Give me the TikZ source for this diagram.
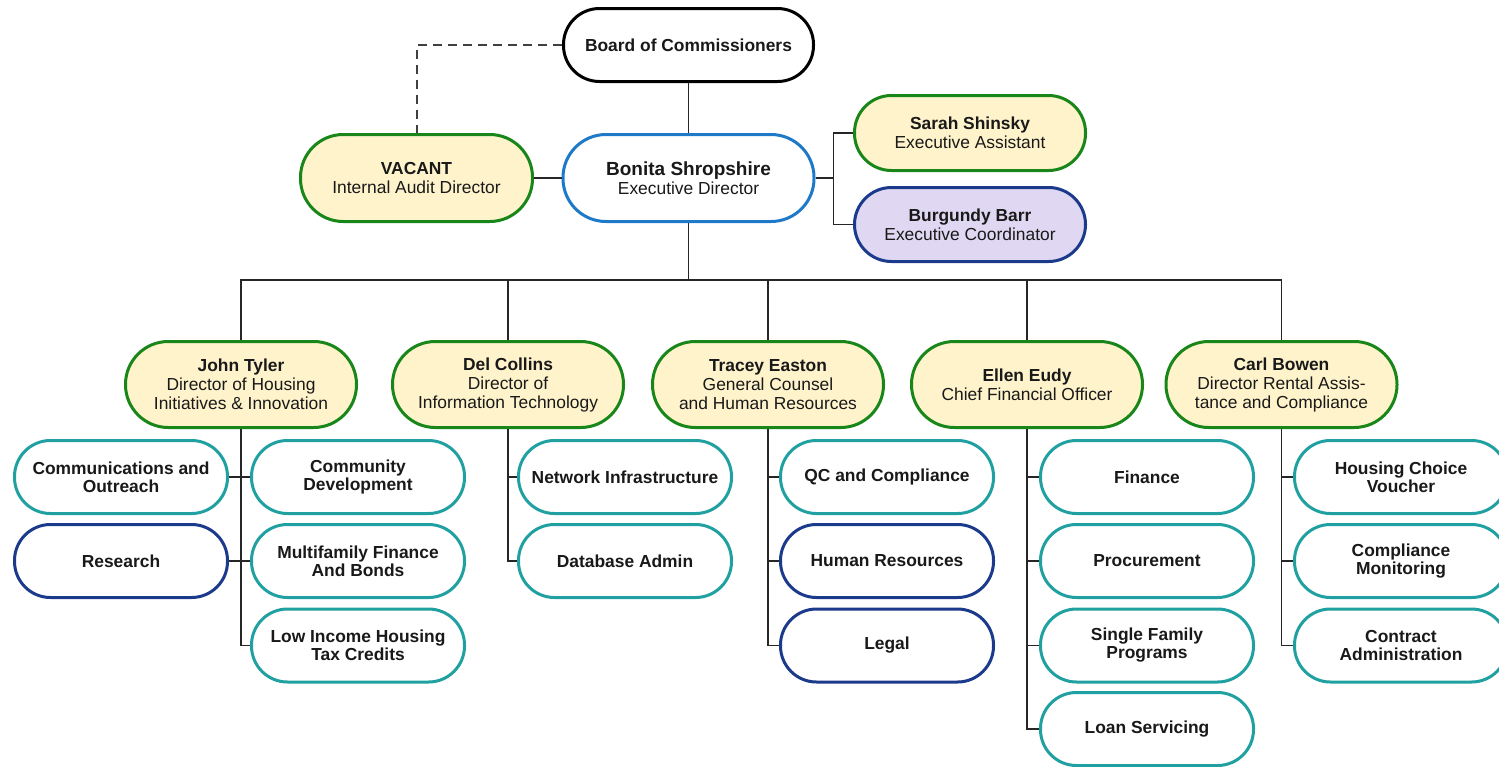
\documentclass[tikz,border=0pt]{standalone}
\usepackage{fontspec}
\setmainfont{Liberation Sans}
\definecolor{hgreen}{RGB}{24,134,24}
\definecolor{hfill}{RGB}{255,243,204}
\definecolor{edblue}{RGB}{30,122,200}
\definecolor{unavy}{RGB}{28,58,140}
\definecolor{lav}{RGB}{224,216,242}
\definecolor{uteal}{RGB}{32,160,160}
\begin{document}
\begin{tikzpicture}[x=0.5pt,y=-0.5pt,
  every node/.style={align=center, inner sep=1pt, line width=1.5pt, text=black!90,
    font=\fontsize{8.7}{9.5}\selectfont},
  top/.style={draw=black, fill=white, minimum width=125pt, minimum height=36.5pt, rounded corners=18pt},
  lead/.style={draw=hgreen, fill=hfill, minimum width=115.5pt, minimum height=43pt, rounded corners=21.4pt},
  unit/.style={draw=uteal, fill=white, minimum width=106.5pt, minimum height=36.5pt, rounded corners=18pt,
    font=\fontsize{8.7}{9}\selectfont\bfseries},
  navyunit/.style={unit, draw=unavy},
  link/.style={draw=black!85, line width=0.85pt}]
  \clip (0,0) rectangle (1499,766);
  % top of the chart
  \node[top] (bc) at (688.5,45) {\textbf{Board of Commissioners}};
  \node[draw=edblue, fill=white, minimum width=125.5pt, minimum height=43.5pt, rounded corners=21.5pt] (ed) at (688.5,178)
    {\fontsize{9.5}{10.5}\selectfont\textbf{Bonita Shropshire}\\Executive Director};
  \node[lead, minimum width=116pt, minimum height=43.5pt] (ia) at (416.5,178) {\textbf{VACANT}\\Internal Audit Director};
  \node[lead, minimum height=37.5pt, rounded corners=18.5pt] (sa) at (970,133) {\textbf{Sarah Shinsky}\\Executive Assistant};
  \node[lead, draw=unavy, fill=lav, minimum height=37pt, rounded corners=18.5pt] (bb) at (970,224.5)
    {\textbf{Burgundy Barr}\\Executive Coordinator};
  \draw[link] (bc.south) -- (ed.north);
  \draw[link, draw=black!75, line width=1pt, dash pattern=on 4.5pt off 3pt] (bc.west) -| (ia.north);
  \draw[link] (ia.east) -- (ed.west);
  \draw[link] (ed.east) -- ++(18,0) coordinate (ea);
  \draw[link] (ea) |- (sa.west) (ea) |- (bb.west);
  % directors
  \node[lead] (jt) at (241,384.5) {\textbf{John Tyler}\\Director of Housing\\Initiatives \& Innovation};
  \node[lead] (dc) at (508,384.5) {\textbf{Del Collins}\\Director of\\Information Technology};
  \node[lead] (te) at (768,384.5) {\textbf{Tracey Easton}\\General Counsel\\and Human Resources};
  \node[lead] (ee) at (1027,384.5) {\textbf{Ellen Eudy}\\Chief Financial Officer};
  \node[lead] (cb) at (1281.5,384.5) {\textbf{Carl Bowen}\\Director Rental Assis-\\tance and Compliance};
  \coordinate (bus) at (688.5,280);
  \draw[link] (ed.south) -- (bus);
  \foreach \d in {jt,dc,te,ee,cb}
    \draw[link] (bus) -| (\d.north);
  % units
  \node[unit] (co) at (121,477) {Communications and\\Outreach};
  \node[navyunit] (rs) at (121,561) {Research};
  \node[unit] (cd) at (358,477) {Community\\Development};
  \node[unit] (mf) at (358,561) {Multifamily Finance\\And Bonds};
  \node[unit, font=\fontsize{8.7}{7.6}\selectfont\bfseries] (li) at (358,645.5) {Low Income Housing\\Tax Credits};
  \node[unit] (ni) at (625,477) {Network Infrastructure};
  \node[unit] (da) at (625,561) {Database Admin};
  \node[unit] (qc) at (887,477) {QC and Compliance};
  \node[navyunit] (hr) at (887,561) {Human Resources};
  \node[navyunit] (lg) at (887,645.5) {Legal};
  \node[unit] (fi) at (1147,477) {Finance};
  \node[unit] (pr) at (1147,561) {Procurement};
  \node[unit] (sf) at (1147,645.5) {Single Family\\Programs};
  \node[unit] (ls) at (1147,729) {Loan Servicing};
  \node[unit] (hc) at (1401,477) {Housing Choice\\Voucher};
  \node[unit] (cm) at (1401,561) {Compliance\\Monitoring};
  \node[unit] (ca) at (1401,645.5) {Contract\\Administration};
  \foreach \u in {co,rs} \draw[link] (jt.south) |- (\u.east);
  \foreach \u in {cd,mf,li} \draw[link] (jt.south) |- (\u.west);
  \foreach \u in {ni,da} \draw[link] (dc.south) |- (\u.west);
  \foreach \u in {qc,hr,lg} \draw[link] (te.south) |- (\u.west);
  \foreach \u in {fi,pr,sf,ls} \draw[link] (ee.south) |- (\u.west);
  \foreach \u in {hc,cm,ca} \draw[link] (cb.south) |- (\u.west);
\end{tikzpicture}
\end{document}
